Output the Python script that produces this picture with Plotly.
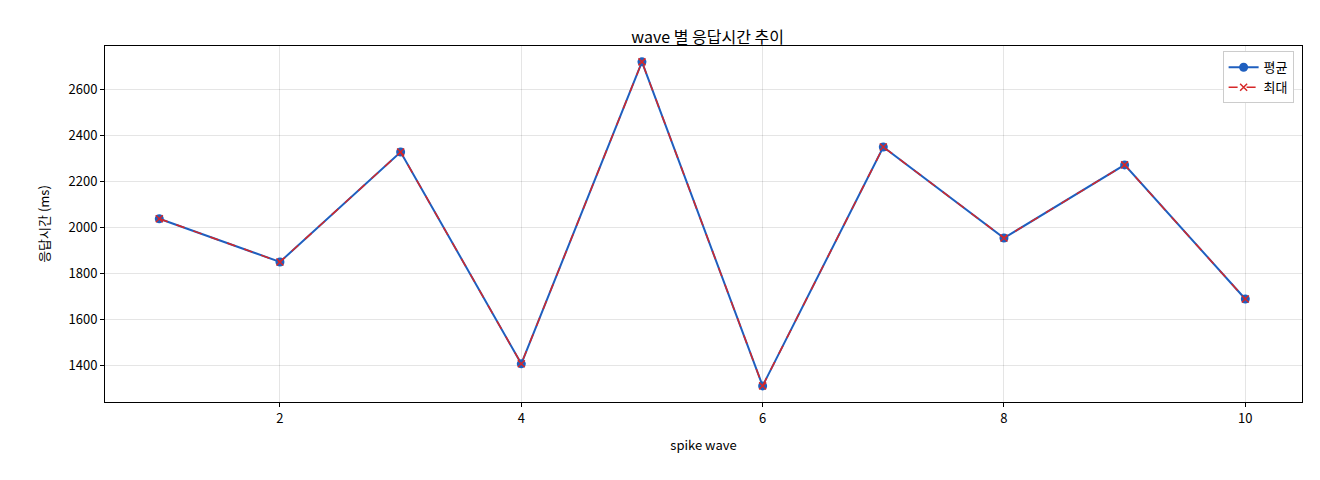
import plotly.graph_objects as go

waves = [1, 2, 3, 4, 5, 6, 7, 8, 9, 10]
avg_ms = [2040, 1852, 2330, 1409, 2722, 1313, 2352, 1956, 2274, 1691]
max_ms = [2040, 1852, 2330, 1409, 2722, 1313, 2352, 1956, 2274, 1691]

fig = go.Figure()
fig.add_trace(go.Scatter(x=waves, y=avg_ms, name="평균", mode="lines+markers",
                         line=dict(color="#1f5fbf", width=2),
                         marker=dict(symbol="circle", size=9, color="#1f5fbf")))
fig.add_trace(go.Scatter(x=waves, y=max_ms, name="최대", mode="lines+markers",
                         line=dict(color="#d62728", width=1.5, dash="dash"),
                         marker=dict(symbol="x-thin", size=7, color="#d62728",
                                     line=dict(color="#d62728", width=1.5))))

axis_style = dict(showline=True, linecolor="black", mirror=True, ticks="outside",
                  ticklen=4, tickcolor="black", gridcolor="rgba(0,0,0,0.1)",
                  zeroline=False, tickfont=dict(size=13))
fig.update_layout(
    width=1320, height=480,
    font=dict(family="Noto Sans CJK KR", color="black", size=13),
    title=dict(text="wave 별 응답시간 추이", x=0.53, y=0.95, xanchor="center", font=dict(size=16)),
    plot_bgcolor="white", paper_bgcolor="white",
    margin=dict(l=97, r=26, t=38, b=86),
    legend=dict(x=0.993, y=0.985, xanchor="right", yanchor="top",
                bordercolor="#cccccc", borderwidth=1, bgcolor="white"),
    xaxis=dict(title=dict(text="spike wave", font=dict(size=13)), range=[0.55, 10.47], dtick=2, **axis_style),
    yaxis=dict(title=dict(text="응답시간 (ms)", font=dict(size=13)), range=[1243, 2791], dtick=200, **axis_style),
)
fig.write_html("out.html")
